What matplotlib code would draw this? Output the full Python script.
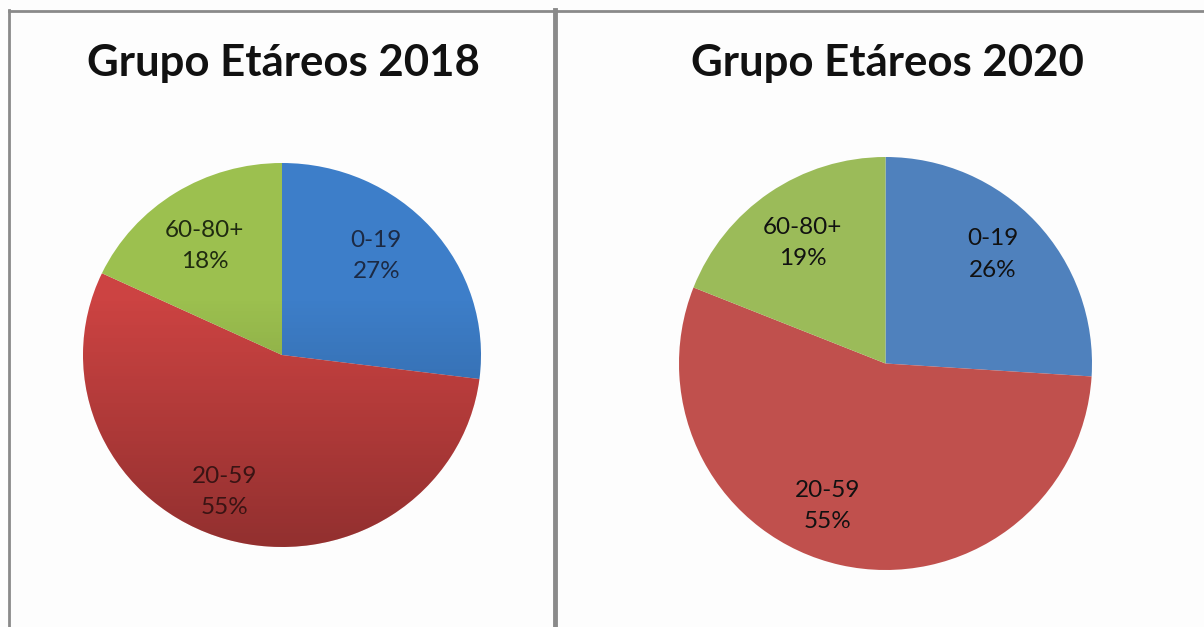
import numpy as np
import matplotlib.pyplot as plt
from matplotlib.lines import Line2D

plt.rcParams['font.family'] = ['Lato', 'DejaVu Sans']

# data
groups = ['0-19', '20-59', '60-80+']
pct_2018 = [27, 55, 18]
pct_2020 = [26, 55, 19]
titles = ['Grupo Etáreos 2018', 'Grupo Etáreos 2020']

colors_2018 = ['#3d7ec9', '#cc4342', '#9cc04f']
colors_2020 = ['#4f81bd', '#c0504d', '#9bbb59']
text_2018 = ['#1c2a44', '#3a1414', '#1f2a10']
text_2020 = ['#111111', '#111111', '#111111']

W, H = 1204, 627
fig = plt.figure(figsize=(W / 100, H / 100), dpi=100)
fig.patch.set_facecolor('#fdfdfd')


def pie_axes(cx, cy, rx, ry):
    return fig.add_axes([(cx - rx) / W, (H - cy - ry) / H, 2 * rx / W, 2 * ry / H])


def draw_pie(ax, values, colors, tcolors, shade, offsets):
    wedges, _ = ax.pie(values, colors=colors, startangle=90, counterclock=False,
                       radius=1.0, wedgeprops=dict(linewidth=0))
    for w, lab, v, tc, (da, dr) in zip(wedges, groups, values, tcolors, offsets):
        mid = np.deg2rad((w.theta1 + w.theta2) / 2 + da)
        ax.text(dr * np.cos(mid), dr * np.sin(mid), f'{lab}\n{v}%', ha='center',
                va='center', fontsize=17.5, color=tc, linespacing=1.6, zorder=5)
    if shade:
        # darker toward the bottom, like the Excel shaded style
        yy = np.linspace(1, -1, 300)[:, None] * np.ones((1, 300))
        rgba = np.zeros((300, 300, 4))
        rgba[..., 3] = np.clip((0.3 - yy) * 0.22, 0, 0.36)
        im = ax.imshow(rgba, extent=(-1, 1, -1, 1), zorder=3, aspect='auto')
        circ = plt.Circle((0, 0), 1.0, transform=ax.transData)
        im.set_clip_path(circ)
    ax.set_xlim(-1, 1)
    ax.set_ylim(-1, 1)
    ax.set_aspect('auto')
    ax.axis('off')


ax1 = pie_axes(282, 355, 199, 192)
draw_pie(ax1, pct_2018, colors_2018, text_2018, True,
         [(6, 0.70), (-6, 0.77), (2, 0.69)])

ax2 = pie_axes(885.5, 363.5, 206.5, 206.5)
draw_pie(ax2, pct_2020, colors_2020, text_2020, False,
         [(2.3, 0.74), (-9.4, 0.745), (0.4, 0.708)])

fig.text(283 / W, 1 - 63 / H, titles[0], ha='center', va='center',
         fontsize=31.5, fontweight='bold', color='#111111')
fig.text(887 / W, 1 - 63 / H, titles[1], ha='center', va='center',
         fontsize=31.5, fontweight='bold', color='#111111')

# panel borders
border = '#8a8a8a'
fig.add_artist(Line2D([9 / W, 1], [1 - 10.5 / H] * 2, color=border, lw=2))
fig.add_artist(Line2D([9 / W] * 2, [0, 1 - 10 / H], color=border, lw=2))
fig.add_artist(Line2D([555 / W] * 2, [0, 1 - 10 / H], color=border, lw=3.5))

fig.savefig('out.png', dpi=100, facecolor=fig.get_facecolor())
